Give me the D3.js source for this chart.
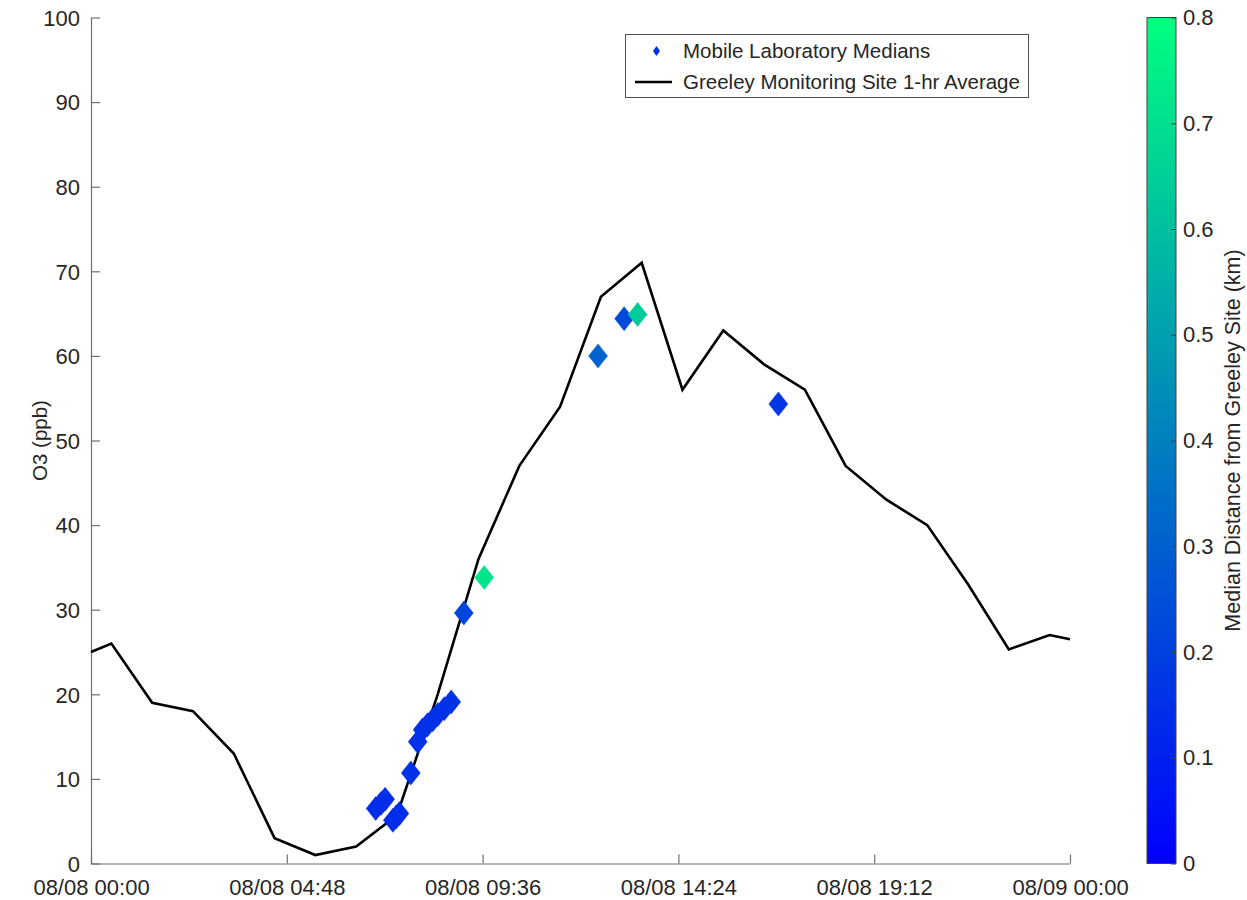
<!DOCTYPE html>
<html>
<head>
<meta charset="utf-8">
<script src="https://cdn.jsdelivr.net/npm/d3@7"></script>
<style>
  body { margin: 0; background: #fff; }
  svg text { font-family: "Liberation Sans", Arial, sans-serif; fill: #262626; }
</style>
</head>
<body>
<svg id="chart" width="1247" height="900"></svg>
<script>
// ---- Data ----
// Greeley monitoring site 1-hr average (hours since 08/08 00:00, ppb)
const siteHours = [0, 0.5, 1.5, 2.5, 3.5, 4.5, 5.5, 6.5, 7.5, 8.5, 9.5, 10.5, 11.5, 12.5, 13.5, 14.5, 15.5, 16.5, 17.5, 18.5, 19.5, 20.5, 21.5, 22.5, 23.5, 24];
const siteO3 = [25, 26, 19, 18, 13, 3, 1, 2, 5.7, 20, 36, 47, 54, 67, 71, 56, 63, 59, 56, 47, 43, 40, 33, 25.3, 27, 26.5];

// Mobile laboratory medians (hours, ppb, median distance km)
const mobileHours = [6.98, 7.11, 7.21, 7.40, 7.48, 7.56, 7.84, 8.01, 8.13, 8.25, 8.38, 8.50, 8.66, 8.83, 9.14, 9.64, 12.43, 13.07, 13.40, 16.85];
const mobileO3 =    [6.5, 7.1, 7.6, 5.1, 5.5, 5.9, 10.7, 14.4, 15.8, 16.4, 17.0, 17.6, 18.3, 19.1, 29.6, 33.8, 60.0, 64.4, 64.9, 54.3];
const mobileDist =  [0.14, 0.14, 0.14, 0.14, 0.14, 0.14, 0.15, 0.15, 0.15, 0.15, 0.15, 0.15, 0.15, 0.16, 0.22, 0.72, 0.31, 0.23, 0.64, 0.17];

const yTicks = [0, 10, 20, 30, 40, 50, 60, 70, 80, 90, 100];
const xTickHours = [0, 4.8, 9.6, 14.4, 19.2, 24];
const xTickLabels = ["08/08 00:00", "08/08 04:48", "08/08 09:36", "08/08 14:24", "08/08 19:12", "08/09 00:00"];
const cbTicks = [0, 0.1, 0.2, 0.3, 0.4, 0.5, 0.6, 0.7, 0.8];

const legendLabels = ["Mobile Laboratory Medians", "Greeley Monitoring Site 1-hr Average"];
const yLabel = "O3 (ppb)";
const cbLabel = "Median Distance from Greeley Site (km)";

// ---- Layout ----
const L = 91, R = 1070, T = 17.5, B = 863.5;
const cbL = 1147, cbR = 1176;
const svg = d3.select("#chart");

const x = d3.scaleLinear().domain([0, 24]).range([L, R]);
const y = d3.scaleLinear().domain([0, 100]).range([B, T]);
const cbY = d3.scaleLinear().domain([0, 0.8]).range([B, T]);

// MATLAB "winter" colormap: r=0, g=t, b=1-0.5t
function winter(t) {
  t = Math.max(0, Math.min(1, t));
  return d3.rgb(0, Math.round(255 * t), Math.round(255 * (1 - 0.5 * t)));
}
const color = d => winter(d / 0.8);

const axisColor = "#707070";
const fontSize = 22;

// ---- Axes ----
const yAxis = d3.axisLeft(y).tickValues(yTicks).tickSizeInner(-9).tickSizeOuter(0).tickPadding(11);
const gy = svg.append("g").attr("transform", `translate(${L},0)`).call(yAxis);
gy.selectAll("text").style("font-size", fontSize + "px").attr("fill", "#262626");

const xAxis = d3.axisBottom(x).tickValues(xTickHours).tickFormat((d, i) => xTickLabels[i])
  .tickSizeInner(-9).tickSizeOuter(0).tickPadding(15.5);
const gx = svg.append("g").attr("transform", `translate(0,${B})`).call(xAxis);
gx.selectAll("text").style("font-size", fontSize + "px").attr("fill", "#262626");

[gx, gy].forEach(g => {
  g.select(".domain").attr("stroke", axisColor).attr("stroke-width", 1.2);
  g.selectAll(".tick line").attr("stroke", axisColor).attr("stroke-width", 1.2);
});
gy.selectAll(".tick text").attr("dy", "0.35em");

// y label
svg.append("text")
  .attr("transform", `translate(47,${(T + B) / 2}) rotate(-90)`)
  .attr("text-anchor", "middle")
  .style("font-size", "20.5px")
  .text(yLabel);

// ---- Line ----
const line = d3.line().x((d, i) => x(siteHours[i])).y(d => y(d));
svg.append("path")
  .datum(siteO3)
  .attr("d", line)
  .attr("fill", "none")
  .attr("stroke", "#000")
  .attr("stroke-width", 2.6)
  .attr("stroke-linejoin", "miter");

// ---- Diamonds ----
const diamond = (cx, cy, hw, hh) => `M${cx},${cy - hh}L${cx + hw},${cy}L${cx},${cy + hh}L${cx - hw},${cy}Z`;
svg.append("g").selectAll("path")
  .data(mobileO3)
  .join("path")
  .attr("d", (d, i) => diamond(x(mobileHours[i]), y(d), 9.5, 12))
  .attr("fill", (d, i) => color(mobileDist[i]))
  .attr("stroke", (d, i) => color(mobileDist[i]))
  .attr("stroke-width", 0.5);

// ---- Legend ----
const lg = svg.append("g");
lg.append("rect").attr("x", 625.5).attr("y", 34.5).attr("width", 403).attr("height", 63)
  .attr("fill", "#fff").attr("stroke", "#505050").attr("stroke-width", 1);
lg.append("path").attr("d", diamond(656.5, 51, 3.5, 5)).attr("fill", winter(0.15 / 0.8));
lg.append("line").attr("x1", 635).attr("x2", 672).attr("y1", 82).attr("y2", 82)
  .attr("stroke", "#000").attr("stroke-width", 2.6);
lg.selectAll("text.lab").data(legendLabels).join("text")
  .attr("class", "lab")
  .attr("x", 683)
  .attr("y", (d, i) => [51, 82][i])
  .attr("dy", "0.35em")
  .style("font-size", "20.5px")
  .text(d => d);

// ---- Colorbar ----
const defs = svg.append("defs");
const grad = defs.append("linearGradient").attr("id", "cbgrad")
  .attr("x1", 0).attr("y1", 1).attr("x2", 0).attr("y2", 0);
d3.range(0, 1.0001, 0.1).forEach(t => {
  grad.append("stop").attr("offset", t).attr("stop-color", winter(t));
});
svg.append("rect").attr("x", cbL).attr("y", T).attr("width", cbR - cbL).attr("height", B - T)
  .attr("fill", "url(#cbgrad)").attr("stroke", "#404040").attr("stroke-width", 1);

const cbAxis = d3.axisRight(cbY).tickValues(cbTicks).tickFormat(d3.format(".1~f"))
  .tickSizeInner(-5).tickSizeOuter(0).tickPadding(7);
const gcb = svg.append("g").attr("transform", `translate(${cbR},0)`).call(cbAxis);
gcb.select(".domain").remove();
gcb.selectAll(".tick line").attr("stroke", "#404040");
gcb.selectAll("text").style("font-size", fontSize + "px").attr("fill", "#262626");

svg.append("text")
  .attr("transform", `translate(1232,${(T + B) / 2}) rotate(-90)`)
  .attr("text-anchor", "middle")
  .attr("dy", "0.35em")
  .style("font-size", "21.5px")
  .text(cbLabel);
</script>
</body>
</html>
